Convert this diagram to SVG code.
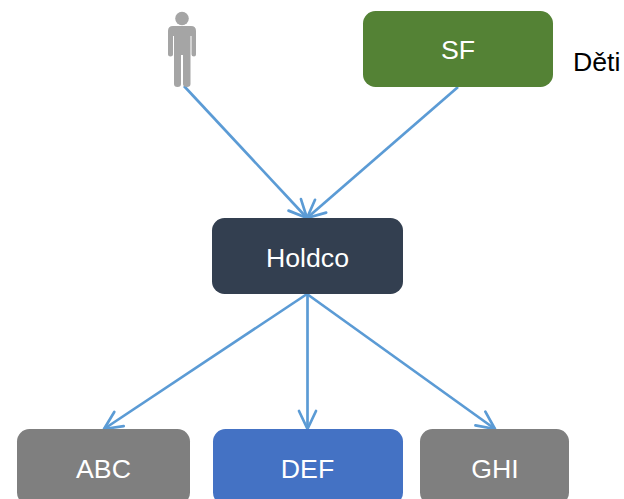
<svg xmlns="http://www.w3.org/2000/svg" width="624" height="499" viewBox="0 0 624 499">
<style>
.box{stroke:none}
.lbl{font-family:"Liberation Sans",Arial,sans-serif;font-size:26.700px;fill:#fff;text-anchor:middle}
.conn{fill:none;stroke:#5b9bd5;stroke-width:2.700;marker-end:url(#arrow)}
</style>
<defs>
<marker id="arrow" markerUnits="userSpaceOnUse" markerWidth="28" markerHeight="28" refX="20" refY="14" orient="auto" viewBox="0 0 28 28">
<path d="M2 5.500 L20 14 L2 22.500" fill="none" stroke="#5b9bd5" stroke-width="2.700" stroke-linecap="round" stroke-linejoin="round"/>
</marker>
</defs>
<rect width="624" height="499" fill="#fff"/>
<g id="connectors">
<line class="conn" x1="184" y1="86" x2="307" y2="218"/>
<line class="conn" x1="458" y1="87" x2="307" y2="218"/>
<line class="conn" x1="307" y1="294" x2="104" y2="429"/>
<line class="conn" x1="307.500" y1="294" x2="307.500" y2="429"/>
<line class="conn" x1="307" y1="294" x2="495" y2="429"/>
</g>
<g id="person">
<circle cx="182" cy="18.500" r="6.800" fill="#a5a5a5"/>
<path d="M173 26 H191 Q196 26 196 31 V54.500 Q196 56.500 194 56.500 Q191.500 56.500 191.500 54.500 V36 H190.500 V84 Q190.500 87 187 87 Q183 87 183 84 V55 H181 V84 Q181 87 177.500 87 Q174 87 174 84 V36 H173 V54.500 Q173 56.500 170.500 56.500 Q168 56.500 168 54.500 V31 Q168 26 173 26 Z" fill="#a5a5a5"/>
</g>
<g id="sf">
<rect class="box" x="363" y="11" width="190" height="76" rx="12.500" fill="#548235"/>
<text class="lbl" x="458" y="59">SF</text>
</g>
<text id="deti" x="573" y="71" font-family="'Liberation Sans',Arial,sans-serif" font-size="26.700" fill="#000">Děti</text>
<g id="holdco">
<rect class="box" x="212" y="218" width="191" height="76" rx="12.500" fill="#333f50"/>
<text class="lbl" x="307.500" y="267">Holdco</text>
</g>
<g id="abc">
<rect class="box" x="17" y="429" width="173" height="76" rx="12.500" fill="#7f7f7f"/>
<text class="lbl" x="103.500" y="478">ABC</text>
</g>
<g id="def">
<rect class="box" x="213" y="429" width="190" height="76" rx="12.500" fill="#4472c4"/>
<text class="lbl" x="307.500" y="478">DEF</text>
</g>
<g id="ghi">
<rect class="box" x="420" y="429" width="149" height="76" rx="12.500" fill="#7f7f7f"/>
<text class="lbl" x="495" y="478">GHI</text>
</g>
</svg>
